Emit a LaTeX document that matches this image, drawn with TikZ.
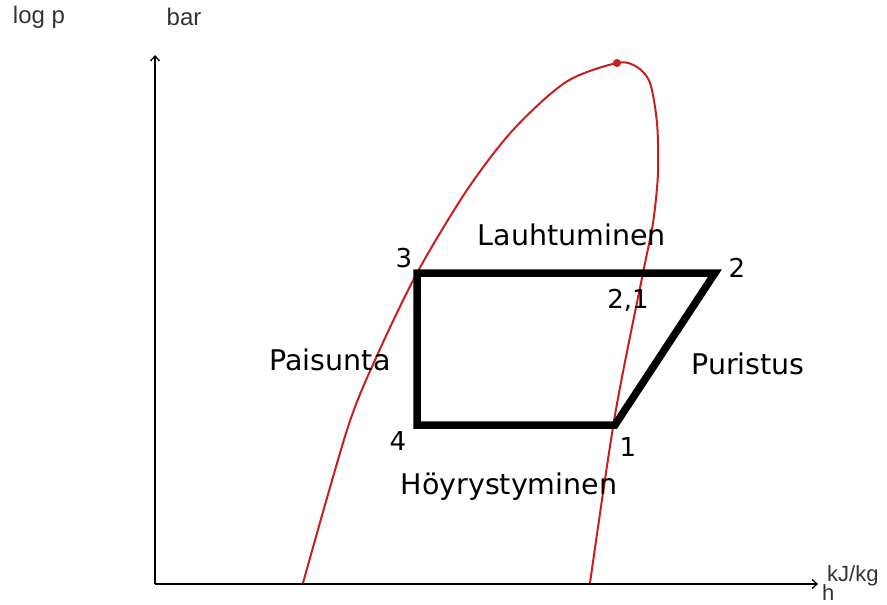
\documentclass[tikz,border=0pt]{standalone}
\usepackage{fontspec}
\usetikzlibrary{arrows.meta}
\setmainfont{DejaVu Sans}
\newfontfamily\axisfont{Liberation Sans}
\definecolor{curvered}{RGB}{200,30,30}

\begin{document}
\begin{tikzpicture}[x=1pt, y=-1pt,
	axis/.style={line width=1.3pt, -{Straight Barb[length=5pt,width=9pt]}},
	phase/.style={curvered, line width=2pt},
	cyc/.style={line width=7.5pt, line join=miter},
	axlabel/.style={font=\axisfont\fontsize{24}{26}\selectfont, text=black!80, inner sep=0pt},
	stage/.style={font=\fontsize{28.5}{31}\selectfont, inner sep=0pt},
	pt/.style={font=\fontsize{26}{28}\selectfont, inner sep=0pt}]
	\useasboundingbox (0,0) rectangle (887,605);
	% axes
	\coordinate (o) at (155,584);
	\coordinate (ytip) at (155,55);
	\coordinate (xtip) at (818,584);
	\draw[axis] (o) -- (ytip);
	\draw[axis] (o) -- (xtip);
	\node[axlabel] (logp) at (39,17) {log p};
	\node[axlabel] (bar) at (184,17) {bar};
	\node[axlabel, anchor=base west, font=\axisfont\fontsize{22}{24}\selectfont] (kjkg) at (827,581) {kJ/kg};
	\node[axlabel, anchor=base west, font=\axisfont\fontsize{22}{24}\selectfont] (h) at (822,600) {h};
	% saturation curve
	\draw[phase] plot[smooth] coordinates {
		(303,583) (347,430) (375,360) (417,273) (467,190) (513,130) (566,82)
		(617,63) (637,67) (650,83) (657,123) (658,173) (653,223)
		(643,273) (615,415) (590,583)};
	\fill[curvered] (617,63) circle (4);
	% cycle
	\coordinate (p1) at (615,425);
	\coordinate (p2) at (715,273);
	\coordinate (p3) at (417,273);
	\coordinate (p4) at (417,425);
	\draw[cyc] (p1) -- (p2) -- (p3) -- (p4) -- cycle;
	\node[pt] (n1) at (628,447) {1};
	\node[pt] (n2) at (737,268) {2};
	\node[pt] (n3) at (404,258) {3};
	\node[pt] (n4) at (398,441) {4};
	\node[pt] (n21) at (628,300) {2,1};
	\node[stage] (lauh) at (572,235) {Lauhtuminen};
	\node[stage] (hoyr) at (509,487) {Höyrystyminen};
	\node[stage] (pais) at (330,360) {Paisunta};
	\node[stage] (puri) at (748,364) {Puristus};
\end{tikzpicture}
\end{document}
